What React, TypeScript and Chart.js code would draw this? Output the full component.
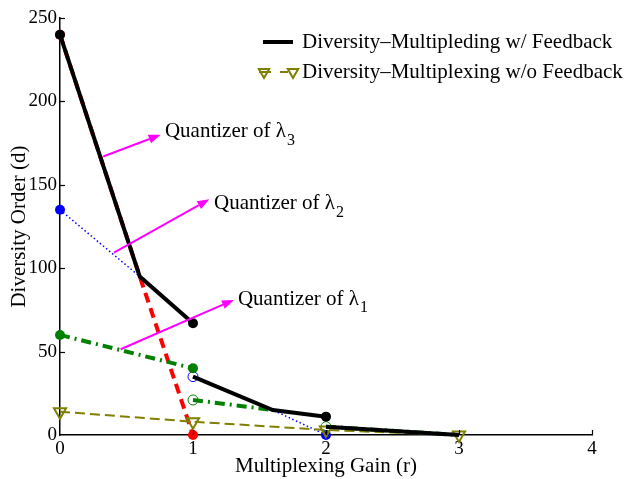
import React, { useEffect, useRef } from "react";
import { Chart, registerables } from "chart.js";

Chart.register(...registerables);

// ---------- data ----------
const xTicks = [0, 1, 2, 3, 4];
const yTicks = [0, 50, 100, 150, 200, 250];

// Diversity-Multiplexing with feedback (black, three pieces)
const fb1X = [0, 0.6, 1];
const fb1Y = [240, 95, 67];
const fb2X = [1, 1.6, 2];
const fb2Y = [35, 15, 11];
const fb3X = [2, 3];
const fb3Y = [5, 0];

// Without feedback (olive, triangles)
const nofbX = [0, 1, 2, 3];
const nofbY = [14, 8, 3, 0];

// Quantizer of lambda_1 (green dash-dot)
const q1aX = [0, 1];
const q1aY = [60, 40];
const q1bX = [1, 1.6];
const q1bY = [21, 15];
const q1cX = [2, 3];
const q1cY = [5, 0];

// Quantizer of lambda_2 (blue dotted)
const q2aX = [0, 0.6];
const q2aY = [135, 95];
const q2bX = [1, 1.6, 2];
const q2bY = [35, 15, 0];

// Quantizer of lambda_3 (red dashed)
const q3X = [0, 0.6, 1];
const q3Y = [240, 95, 0];

// annotations (data coordinates)
const arrowTailX = [0.325, 0.406, 0.456];
const arrowTailY = [167, 109.3, 51.4];
const arrowHeadX = [0.757, 1.123, 1.308];
const arrowHeadY = [180, 141.3, 81];
const noteX = [0.789, 1.158, 1.338];
const noteY = [182, 138.5, 81.5];
const noteText = ["Quantizer of λ", "Quantizer of λ", "Quantizer of λ"];
const noteSub = ["3", "2", "1"];

const legendLabels = [
  "Diversity\u2013Multipleding w/ Feedback",
  "Diversity\u2013Multiplexing w/o Feedback",
];

const FONT = "'Liberation Serif', 'Times New Roman', serif";
const BLACK = "#000000";
const RED = "#ff0000";
const BLUE = "#0000ff";
const GREEN = "#008000";
const OLIVE = "#808000";
const MAGENTA = "#ff00ff";
const CLEAR = "rgba(0,0,0,0)";

const zip = (xs: number[], ys: number[]) => xs.map((x, i) => ({ x, y: ys[i] }));

function drawTriangleDown(ctx: CanvasRenderingContext2D, x: number, y: number, r: number) {
  ctx.beginPath();
  ctx.moveTo(x, y + r);
  ctx.lineTo(x - r * Math.sin(Math.PI / 3), y - r * 0.5);
  ctx.lineTo(x + r * Math.sin(Math.PI / 3), y - r * 0.5);
  ctx.closePath();
  ctx.stroke();
}

const overlayPlugin = {
  id: "overlay",
  afterDatasetsDraw(chart: any) {
    const ctx: CanvasRenderingContext2D = chart.ctx;
    const xs = chart.scales.x;
    const ys = chart.scales.y;
    const area = chart.chartArea;
    ctx.save();
    // inward ticks
    ctx.strokeStyle = BLACK;
    ctx.lineWidth = 1.2;
    xTicks.forEach((v) => {
      if (v === 0) return;
      const px = Math.round(xs.getPixelForValue(v)) + 0.5;
      ctx.beginPath();
      ctx.moveTo(px, area.bottom);
      ctx.lineTo(px, area.bottom - 5);
      ctx.stroke();
    });
    yTicks.forEach((v) => {
      if (v === 0) return;
      const py = Math.round(ys.getPixelForValue(v)) + 0.5;
      ctx.beginPath();
      ctx.moveTo(area.left, py);
      ctx.lineTo(area.left + 5, py);
      ctx.stroke();
    });

    // arrows
    for (let i = 0; i < arrowTailX.length; i++) {
      const x1 = xs.getPixelForValue(arrowTailX[i]);
      const y1 = ys.getPixelForValue(arrowTailY[i]);
      const x2 = xs.getPixelForValue(arrowHeadX[i]);
      const y2 = ys.getPixelForValue(arrowHeadY[i]);
      const ang = Math.atan2(y2 - y1, x2 - x1);
      const L = 12;
      const W = 4.5;
      const bx = x2 - L * Math.cos(ang);
      const by = y2 - L * Math.sin(ang);
      ctx.strokeStyle = MAGENTA;
      ctx.fillStyle = MAGENTA;
      ctx.lineWidth = 2;
      ctx.setLineDash([]);
      ctx.beginPath();
      ctx.moveTo(x1, y1);
      ctx.lineTo(bx, by);
      ctx.stroke();
      ctx.beginPath();
      ctx.moveTo(x2, y2);
      ctx.lineTo(bx + W * Math.sin(ang), by - W * Math.cos(ang));
      ctx.lineTo(bx - W * Math.sin(ang), by + W * Math.cos(ang));
      ctx.closePath();
      ctx.fill();

      // label
      const tx = xs.getPixelForValue(noteX[i]);
      const ty = ys.getPixelForValue(noteY[i]);
      ctx.fillStyle = BLACK;
      ctx.font = `21px ${FONT}`;
      ctx.textAlign = "left";
      ctx.textBaseline = "middle";
      ctx.fillText(noteText[i], tx, ty);
      const w = ctx.measureText(noteText[i]).width;
      ctx.font = `16px ${FONT}`;
      ctx.fillText(noteSub[i], tx + w + 1, ty + 9);
    }

    // legend
    ctx.font = `21px ${FONT}`;
    ctx.textAlign = "left";
    ctx.textBaseline = "middle";
    ctx.fillStyle = BLACK;
    const lx = area.right - 329;
    const ly1 = area.top + 24;
    const ly2 = area.top + 54;
    ctx.strokeStyle = BLACK;
    ctx.lineWidth = 4;
    ctx.setLineDash([]);
    ctx.beginPath();
    ctx.moveTo(lx, ly1);
    ctx.lineTo(lx + 30, ly1);
    ctx.stroke();
    ctx.fillText(legendLabels[0], lx + 39, ly1);

    ctx.strokeStyle = OLIVE;
    ctx.lineWidth = 2;
    ctx.beginPath();
    ctx.moveTo(lx - 4, ly2);
    ctx.lineTo(lx + 8, ly2);
    ctx.moveTo(lx + 17, ly2);
    ctx.lineTo(lx + 25, ly2);
    ctx.stroke();
    ctx.lineWidth = 2;
    drawTriangleDown(ctx, lx + 1, ly2, 6);
    drawTriangleDown(ctx, lx + 30, ly2, 6);
    ctx.fillStyle = BLACK;
    ctx.fillText(legendLabels[1], lx + 39, ly2);
    ctx.restore();
  },
};

export default function App() {
  const ref = useRef<HTMLCanvasElement | null>(null);

  useEffect(() => {
    if (!ref.current) return;
    const common = { showLine: true, clip: false as any, fill: false, tension: 0 };
    const chart = new Chart(ref.current, {
      type: "scatter",
      data: {
        datasets: [
          {
            ...common,
            data: zip(fb1X, fb1Y),
            borderColor: BLACK,
            borderWidth: 4,
            pointRadius: [5, 0, 5],
            pointBackgroundColor: BLACK,
            pointBorderColor: BLACK,
            pointBorderWidth: 0,
          },
          {
            ...common,
            data: zip(fb2X, fb2Y),
            borderColor: BLACK,
            borderWidth: 4,
            pointRadius: [0, 0, 5],
            pointBackgroundColor: BLACK,
            pointBorderColor: BLACK,
            pointBorderWidth: 0,
          },
          {
            ...common,
            data: zip(fb3X, fb3Y),
            borderColor: BLACK,
            borderWidth: 4,
            pointRadius: 0,
          },
          {
            ...common,
            data: zip(nofbX, nofbY),
            borderColor: OLIVE,
            borderWidth: 2,
            borderDash: [10, 5],
            pointStyle: "triangle",
            pointRotation: 180,
            pointRadius: 7,
            pointBackgroundColor: CLEAR,
            pointBorderColor: OLIVE,
            pointBorderWidth: 2,
          },
          {
            ...common,
            data: zip(q1aX, q1aY),
            borderColor: GREEN,
            borderWidth: 4,
            borderDash: [10, 5, 2, 5],
            pointRadius: 5,
            pointBackgroundColor: GREEN,
            pointBorderColor: GREEN,
            pointBorderWidth: 0,
          },
          {
            ...common,
            data: zip(q1bX, q1bY),
            borderColor: GREEN,
            borderWidth: 4,
            borderDash: [10, 5, 2, 5],
            pointRadius: [5, 0],
            pointBackgroundColor: CLEAR,
            pointBorderColor: GREEN,
            pointBorderWidth: 1,
          },
          {
            ...common,
            data: zip(q1cX, q1cY),
            borderColor: GREEN,
            borderWidth: 4,
            borderDash: [10, 5, 2, 5],
            pointRadius: [5, 0],
            pointBackgroundColor: CLEAR,
            pointBorderColor: GREEN,
            pointBorderWidth: 1,
          },
          {
            ...common,
            data: zip(q2aX, q2aY),
            borderColor: BLUE,
            borderWidth: 1.5,
            borderDash: [1.5, 2.5],
            pointRadius: [5, 0],
            pointBackgroundColor: BLUE,
            pointBorderColor: BLUE,
            pointBorderWidth: 0,
          },
          {
            ...common,
            data: zip(q2bX, q2bY),
            borderColor: BLUE,
            borderWidth: 1.5,
            borderDash: [1.5, 2.5],
            pointRadius: [5, 0, 5],
            pointBackgroundColor: [CLEAR, BLUE, BLUE],
            pointBorderColor: BLUE,
            pointBorderWidth: [1, 0, 0],
          },
          {
            ...common,
            data: zip(q3X, q3Y),
            borderColor: RED,
            borderWidth: 4,
            borderDash: [10, 6],
            pointRadius: [5, 0, 5],
            pointBackgroundColor: RED,
            pointBorderColor: RED,
            pointBorderWidth: 0,
          },
        ] as any,
      },
      options: {
        animation: false,
        responsive: false,
        maintainAspectRatio: false,
        layout: { padding: { top: 18, right: 40, left: 0, bottom: 0 } },
        plugins: {
          legend: { display: false },
          tooltip: { enabled: false },
        },
        scales: {
          x: {
            type: "linear",
            min: 0,
            max: 4,
            afterBuildTicks: (s: any) => {
              s.ticks = xTicks.map((v) => ({ value: v }));
            },
            afterFit: (s: any) => {
              s.height = 44;
            },
            grid: { display: false, drawTicks: false },
            border: { display: true, color: BLACK, width: 1.5 },
            ticks: {
              color: BLACK,
              font: { family: FONT, size: 19 },
              padding: 3,
              maxRotation: 0,
              autoSkip: false,
            },
            title: {
              display: true,
              text: "Multiplexing Gain (r)",
              color: BLACK,
              font: { family: FONT, size: 21 },
              padding: { top: 0, bottom: 0 },
            },
          },
          y: {
            type: "linear",
            min: 0,
            max: 250,
            afterBuildTicks: (s: any) => {
              s.ticks = yTicks.map((v) => ({ value: v }));
            },
            afterFit: (s: any) => {
              s.width = 60;
            },
            grid: { display: false, drawTicks: false },
            border: { display: true, color: BLACK, width: 1.5 },
            ticks: {
              color: BLACK,
              font: { family: FONT, size: 19 },
              padding: 3,
              autoSkip: false,
            },
            title: {
              display: true,
              text: "Diversity Order (d)",
              color: BLACK,
              font: { family: FONT, size: 21 },
              padding: { top: 7, bottom: 0 },
            },
          },
        },
      } as any,
      plugins: [overlayPlugin],
    });
    return () => chart.destroy();
  }, []);

  return (
    <div style={{ position: "fixed", left: 0, top: 0, width: 632, height: 479, background: "#fff" }}>
      <canvas ref={ref} width={632} height={479} style={{ width: 632, height: 479, display: "block" }} />
    </div>
  );
}
